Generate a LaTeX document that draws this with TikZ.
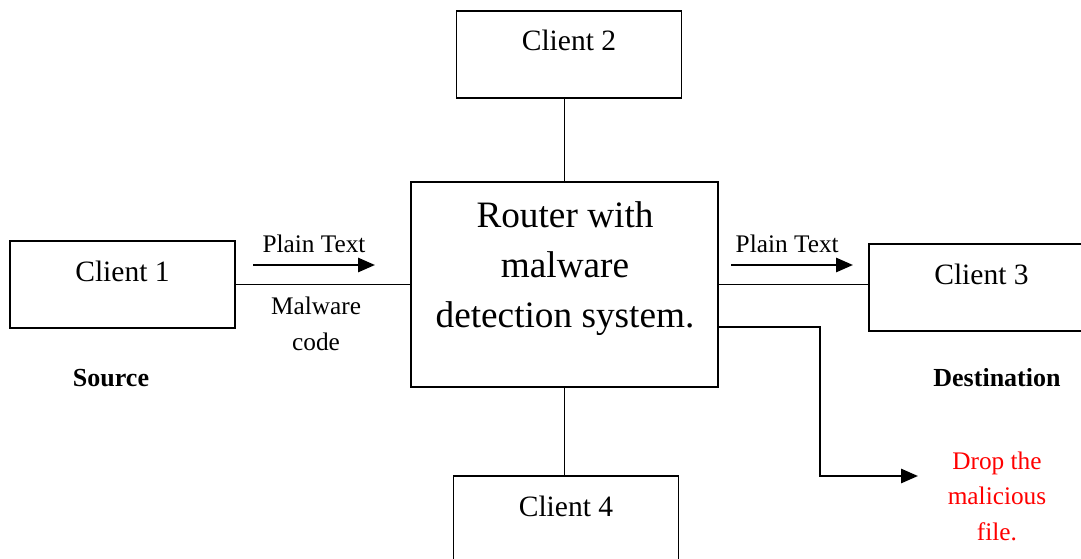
\documentclass[tikz,border=0pt]{standalone}
\usepackage{fontspec}
\setmainfont{Liberation Serif}
\usetikzlibrary{positioning, calc, arrows.meta}

\begin{document}
\begin{tikzpicture}[x=0.025cm, y=-0.025cm, >={Triangle[length=12pt, width=10pt]},
					client/.style={draw, line width=1.2pt, minimum width=5.625cm, inner xsep=0pt,
						inner ysep=0pt, text height=1cm, text depth=1.175cm, font=\fontsize{21}{25}\selectfont},
					lbl/.style={font=\fontsize{18}{25.3}\selectfont, align=center},
					link/.style={line width=1.2pt},
					arr/.style={->, line width=1.7pt}]
	\useasboundingbox (0,0) rectangle (1081,559);
	
	\node[draw, line width=1.2pt, minimum width=7.675cm, minimum height=5.125cm] (R) at (564.5,284.5) {};
	\node[font=\fontsize{26.5}{35.5}\selectfont, align=center] (Rtxt) at (565,269)
		{Router with\\malware\\detection system.};
	
	\node[client] (C1) at (122.5,284.5) {Client 1};
	\node[client] (C2) at (569,54.5)    {Client 2};
	\node[client] (C3) at (981.5,287.5) {Client 3};
	\node[client] (C4) at (566,519.5)   {Client 4};
	
	\node[font=\bfseries\fontsize{18.5}{22}\selectfont] (Src) at (111,378) {Source};
	\node[font=\bfseries\fontsize{18.5}{22}\selectfont] (Dst) at (997,378) {Destination};
	\node[lbl, text=red] (Drop) at (997,496) {Drop the\\malicious\\file.};
	
	\coordinate (P1s) at (253,265);
	\coordinate (P1e) at (375,265);
	\coordinate (P3s) at (731,265);
	\coordinate (P3e) at (853,265);
	\coordinate (Din) at (918,476);
	
	%Links
	\path (C1) edge[link] node[lbl, below, pos=0.46, yshift=-0.18cm] {Malware\\code} (R)
		(P1s) edge[arr] node[lbl, above, yshift=0.17cm] {Plain Text} (P1e)
		(P3s) edge[arr] node[lbl, above, yshift=0.17cm, xshift=-0.12cm] {Plain Text} (P3e);
	\draw[link] (R.east) -- (R.east -| C3.west);
	\draw[link] (R.north) -- (R.north |- C2.south);
	\draw[link] (R.south) -- (R.south |- C4.north);
	
	%Drop
	\draw[arr] (R.east |- 0,327) -| (820,476) -- (Din);
\end{tikzpicture}
\end{document}
